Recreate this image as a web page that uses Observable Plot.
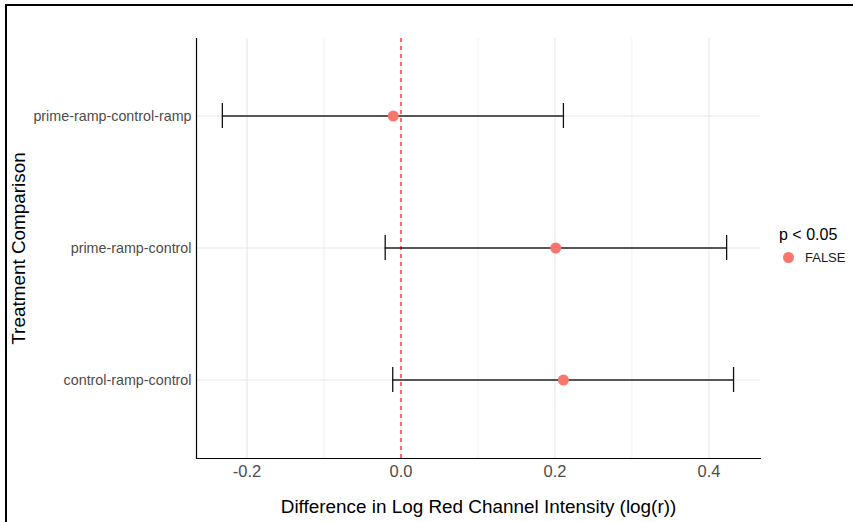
<!DOCTYPE html>
<html>
<head>
<meta charset="utf-8">
<script src="https://cdn.jsdelivr.net/npm/d3@7"></script>
<script src="https://cdn.jsdelivr.net/npm/@observablehq/plot@0.6"></script>
<style>
  html, body { margin: 0; padding: 0; background: #fff; overflow: hidden; }
  #wrap { position: relative; width: 853px; height: 522px; font-family: "Liberation Sans", Arial, sans-serif; }
  #frame { position: absolute; left: 5px; top: 4px; width: 900px; height: 600px; border: 2.5px solid #000; box-sizing: border-box; pointer-events: none; }
  #legend { position: absolute; left: 779px; top: 226px; color: #000; }
  #legend .title { font-size: 16px; }
  #legend .item { display: flex; align-items: center; margin-top: 6px; font-size: 13px; color: #1a1a1a; }
  #legend .dot { width: 11px; height: 11px; border-radius: 50%; background: #F8766D; margin-left: 4px; margin-right: 11px; }
</style>
</head>
<body>
<div id="wrap"><div id="chart"></div><div id="frame"></div>
<div id="legend"><div class="title">p &lt; 0.05</div><div class="item"><div class="dot"></div><span>FALSE</span></div></div>
</div>
<script>
const comparisons = ["prime-ramp-control-ramp", "prime-ramp-control", "control-ramp-control"];
const estimates = [-0.010, 0.201, 0.211];
const lowers = [-0.232, -0.0205, -0.0107];
const uppers = [0.211, 0.423, 0.432];
const significant = ["FALSE", "FALSE", "FALSE"];
const xTicks = [-0.2, 0.0, 0.2, 0.4];
const xMinor = [-0.1, 0.1, 0.3];

const data = comparisons.map((c, i) => ({comparison: c, est: estimates[i], lo: lowers[i], hi: uppers[i], sig: significant[i]}));

const chart = Plot.plot({
  width: 853,
  height: 522,
  marginLeft: 196,
  marginRight: 93,
  marginTop: 38,
  marginBottom: 64,
  style: {fontFamily: "'Liberation Sans', Arial, sans-serif", background: "transparent"},
  x: {domain: [-0.2656, 0.467], ticks: xTicks, tickFormat: d => d.toFixed(1), tickSize: 0, label: null},
  y: {type: "band", domain: comparisons, paddingInner: 0.81, paddingOuter: 0.49, tickSize: 0, label: null},
  marks: [
    Plot.ruleX(xMinor, {stroke: "#f0f0f0", strokeWidth: 1}),
    Plot.ruleX(xTicks, {stroke: "#e8e8e8", strokeWidth: 1.1}),
    Plot.ruleY(comparisons, {y: d => d, stroke: "#e8e8e8", strokeWidth: 1.1}),
    Plot.ruleX([0], {stroke: "#ff0000", strokeWidth: 1.1, strokeDasharray: "4,4"}),
    Plot.ruleY(data, {y: "comparison", x1: "lo", x2: "hi", stroke: "#222222", strokeWidth: 1.3}),
    Plot.tickX(data, {y: "comparison", x: "lo", stroke: "#111111", strokeWidth: 1.3}),
    Plot.tickX(data, {y: "comparison", x: "hi", stroke: "#111111", strokeWidth: 1.3}),
    Plot.dot(data, {y: "comparison", x: "est", r: 5.5, fill: "#F8766D", fillOpacity: 1, stroke: null}),
    Plot.axisX({ticks: xTicks, tickFormat: d => d.toFixed(1), tickSize: 0, tickPadding: 7, fontSize: 16.5, color: "#4d4d4d", label: null}),
    Plot.axisY({tickSize: 0, tickPadding: 5, fontSize: 14.3, color: "#4d4d4d", label: null}),
    Plot.ruleX([-0.2656], {stroke: "#000", strokeWidth: 1.2}),
    Plot.frame({anchor: "bottom", stroke: "#000", strokeWidth: 1.2}),
    Plot.text(["Difference in Log Red Channel Intensity (log(r))"], {frameAnchor: "bottom", dy: 48, lineAnchor: "middle", textAnchor: "middle", fontSize: 18.9, fill: "#000"}),
    Plot.text(["Treatment Comparison"], {frameAnchor: "left", dx: -178, rotate: -90, lineAnchor: "middle", textAnchor: "middle", fontSize: 18.9, fill: "#000"})
  ]
});
document.getElementById("chart").appendChild(chart);
</script>
</body>
</html>
